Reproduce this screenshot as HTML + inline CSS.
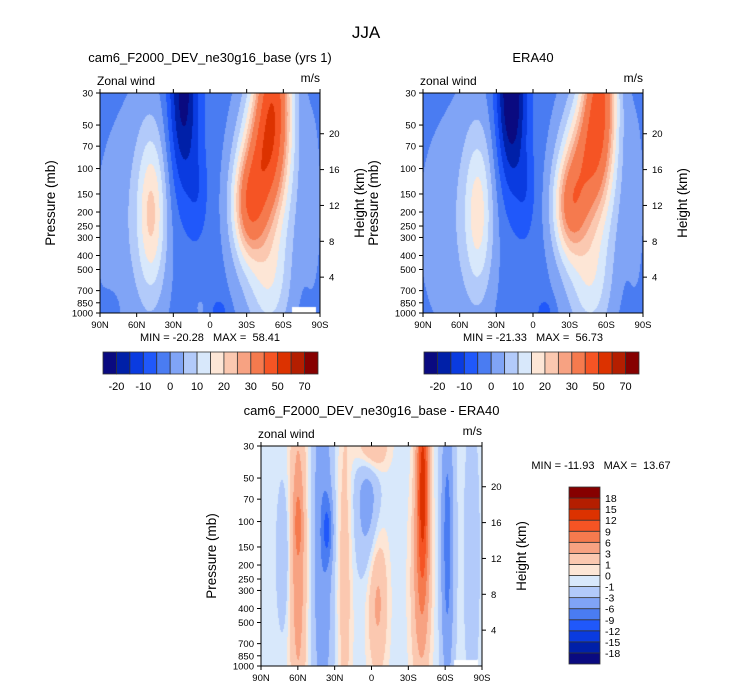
<!DOCTYPE html>
<html><head><meta charset="utf-8">
<style>
body{margin:0;background:#fff;width:733px;height:691px;position:relative;overflow:hidden;font-family:"Liberation Sans",sans-serif;color:#000}
#svg{position:absolute;left:0;top:0}
#svg text{white-space:pre}
canvas{position:absolute}
</style></head><body>
<canvas id="c1" width="220" height="220" style="left:100px;top:93px"></canvas>
<canvas id="c2" width="220" height="220" style="left:423px;top:93px"></canvas>
<canvas id="c3" width="221" height="220" style="left:261px;top:446px"></canvas>
<svg id="svg" width="733" height="691" xmlns="http://www.w3.org/2000/svg"></svg>
<script>
// ---- data ----
const pressureTicks=[30,50,70,100,150,200,250,300,400,500,700,850,1000];
const heightTicks=[4,8,12,16,20];
const latTicks=[90,60,30,0,-30,-60,-90];
const latTickLabels=["90N","60N","30N","0","30S","60S","90S"];
const fullLevels=[-20,-15,-10,-5,0,5,10,15,20,25,30,40,50,60,70];
const fullLabels=["-20","-10","0","10","20","30","50","70"];
const diffLevels=[-18,-15,-12,-9,-6,-3,-1,0,1,3,6,9,12,15,18];
const palette=["#0a0a80","#0020a8","#0a3be0","#2058fa","#4a7cf2","#80a4f6","#b2cafa","#d8e8fb","#fde6d6","#fbc8b0","#f7a282","#f57a4e","#f55424","#dc3200","#b41e00","#860000"];
// blobs: [lat, zfrac(0=30mb,1=1000mb), amplitude, latWidth, zWidth]
const modelBase=-3;
const modelBlobs=[[72,0.6,5,30,0.6],[48,0.55,16,11,0.35],[48,0.5,6,20,0.6],[22,0.0,-20,12,0.45],[10,0.45,-5,8,0.2],[-52,0.0,42,15,0.4],[-32,0.52,25,13,0.22],[-42,0.3,17,16,0.25],[-44,0.5,18,25,0.5],[-50,0.9,8,16,0.25],[-85,0.5,4,8,0.5],[-8,1.0,-6,6,0.06],[8,0.98,4,4,0.05],[82,0.98,-5,6,0.06]];
const eraBase=-3;
const eraBlobs=[[72,0.6,5,30,0.6],[45,0.55,13,11,0.35],[45,0.5,6,20,0.6],[18,0.0,-24,12,0.42],[6,0.45,-5,8,0.2],[-55,0.0,40,14,0.4],[-30,0.52,23,13,0.22],[-42,0.3,16,16,0.25],[-44,0.5,17,25,0.5],[-48,0.9,8,16,0.25],[-85,0.5,4,8,0.5],[-10,1.0,-6,6,0.06]];
const diffBase=-0.5;
const diffBlobs=[[60,0.5,5,7,0.8],[60,0.35,4,3,0.15],[40,0.45,-5,8,0.9],[36,0.38,-6,4,0.15],[72,0.5,-2.5,5,0.3],[22,0.6,2.5,6,0.8],[3,0.25,-4,10,0.3],[0,0.0,5,12,0.12],[-5,0.7,4,8,0.35],[-42,0.15,13,5,0.5],[-40,0.65,4,8,0.5],[-62,0.3,-6,5,0.5],[-62,0.8,-3,5,0.4],[-82,0.5,-1,8,0.8]];

function field(base,blobs,lat,z){let v=base;for(const b of blobs){const dl=(lat-b[0])/b[3],dz=(z-b[1])/b[4];v+=b[2]*Math.exp(-dl*dl-dz*dz);}return v;}
function idx(levels,v){let i=0;for(const l of levels)if(v>=l)i++;return i;}
function drawField(id,base,blobs,levels,blankBR){
  const c=document.getElementById(id),ctx=c.getContext('2d'),W=c.width,H=c.height;
  for(let y=0;y<H;y++)for(let x=0;x<W;x++){
    const lat=90-180*x/(W-1),z=y/(H-1);
    ctx.fillStyle=palette[idx(levels,field(base,blobs,lat,z))];ctx.fillRect(x,y,1,1);}
  if(blankBR){ctx.fillStyle="#fff";ctx.fillRect(W-28,H-6,24,6);}
}
drawField('c1',modelBase,modelBlobs,fullLevels,true);
drawField('c2',eraBase,eraBlobs,fullLevels,false);
drawField('c3',diffBase,diffBlobs,diffLevels,true);

const S=document.getElementById('svg'),NS="http://www.w3.org/2000/svg";
function el(t,a,txt){const e=document.createElementNS(NS,t);for(const k in a)e.setAttribute(k,a[k]);if(txt!==undefined)e.textContent=txt;S.appendChild(e);return e;}
function txt(x,y,s,size,anchor,name,rot){const e=el('text',{x:x,y:y,'font-size':size,'text-anchor':anchor||'start','font-family':'Liberation Sans, sans-serif'},s);
 if(rot)e.setAttribute('transform','rotate(-90 '+x+' '+y+')');
 
 return e;}
function yOfP(p,y0,h){return y0+h*Math.log(p/30)/Math.log(1000/30);}
function yOfH(km,y0,h){return yOfP(1000*Math.exp(-km/7),y0,h);}
function panel(x0,y0,w,h,title,tl,pmin,tx,ty){
  txt(x0+w/2,y0-31,title,13,'middle','panel-title');
  txt(x0-3,y0-8,tl,12,'start','variable-label');
  txt(x0+w,y0-11,'m/s',12,'end','units-label');
  const r=el('rect',{x:x0,y:y0,width:w,height:h,fill:'none',stroke:'#000','stroke-width':1});
  
  
  for(const p of pressureTicks){const y=yOfP(p,y0,h);
    el('line',{x1:x0-4,y1:y,x2:x0,y2:y,stroke:'#000'});
    txt(x0-7,y+3.5,String(p),9.5,'end','pressure-tick-label');}
  for(const k of heightTicks){const y=yOfH(k,y0,h);
    el('line',{x1:x0+w,y1:y,x2:x0+w+4,y2:y,stroke:'#000'});
    txt(x0+w+9,y+3.5,String(k),9.5,'start','height-tick-label');}
  latTicks.forEach((l,i)=>{const x=x0+w*(90-l)/180;
    el('line',{x1:x,y1:y0+h,x2:x,y2:y0+h+4,stroke:'#000'});
    el('line',{x1:x,y1:y0,x2:x,y2:y0-4,stroke:'#000'});
    txt(x,y0+h+15,latTickLabels[i],9.5,'middle','latitude-tick-label');});
  txt(x0-45,y0+h/2,'Pressure (mb)',13.5,'middle','y-axis-title',true);
  txt(x0+w+44,y0+h/2,'Height (km)',13.5,'middle','right-axis-title',true);
  if(tx!==undefined)txt(tx,ty,pmin,11,'middle','min-max-label');
}
panel(100,93,220,220,'cam6_F2000_DEV_ne30g16_base (yrs 1)','Zonal wind','MIN = -20.28   MAX =  58.41',210,341);
panel(423,93,220,220,'ERA40','zonal wind','MIN = -21.33   MAX =  56.73',533,341);
panel(261,446,221,220,'cam6_F2000_DEV_ne30g16_base - ERA40','zonal wind');
txt(601,469,'MIN = -11.93   MAX =  13.67',11,'middle','diff-min-max-label');
txt(366,38,'JJA',17,'middle','figure-title');

function hbar(x0,y0,w,h,levels,labels,name){
  const n=palette.length,bw=w/n;
  for(let i=0;i<n;i++){const r=el('rect',{x:x0+i*bw,y:y0,width:bw,height:h,fill:palette[i],stroke:'#333','stroke-width':0.8});
    
    }
  for(let j=0;j<labels.length;j++){const bi=1+2*j;txt(x0+bi*bw,y0+h+16,labels[j],11,'middle',name+'-label');}
}
hbar(103,352,215,22,fullLevels,fullLabels,'model-colorbar');
hbar(424,352,215,22,fullLevels,fullLabels,'era-colorbar');
(function(){const x0=569,y0=487,w=31,h=177,n=palette.length,bh=h/n;
  for(let i=0;i<n;i++){const r=el('rect',{x:x0,y:y0+h-(i+1)*bh,width:w,height:bh,fill:palette[i],stroke:'#333','stroke-width':0.8});
    
    }
  diffLevels.forEach((l,i)=>{const y=y0+h-(i+1)*bh;txt(x0+w+5,y+4,String(l),10.5,'start','diff-colorbar-label');});
})();
</script>
</body></html>
